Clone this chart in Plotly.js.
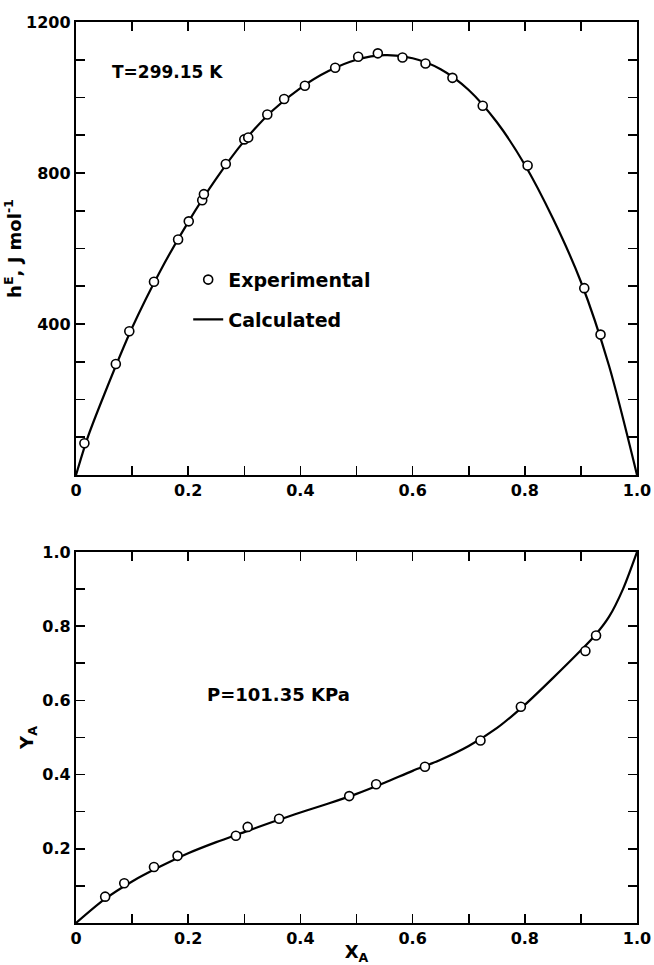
<!DOCTYPE html>
<html>
<head>
<meta charset="utf-8">
<script src="https://cdn.plot.ly/plotly-3.0.1.min.js"></script>
<style>html,body{margin:0;padding:0;background:#fff;}#chart{width:654px;height:965px;}</style>
</head>
<body>
<div id="chart"></div>
<script>
// Top panel: excess enthalpy hE (J/mol) vs x_A at T = 299.15 K
const hExpX = [0.015, 0.071, 0.095, 0.139, 0.182, 0.201, 0.225, 0.228, 0.267, 0.300, 0.307, 0.341, 0.371, 0.408, 0.462, 0.503, 0.538, 0.582, 0.623, 0.671, 0.725, 0.805, 0.906, 0.935];
const hExpY = [84, 294, 381, 512, 624, 672, 728, 744, 824, 889, 894, 955, 996, 1031, 1079, 1108, 1117, 1106, 1090, 1052, 978, 820, 495, 372];
const hCalcX = [0, 0.02, 0.05, 0.1, 0.15, 0.2, 0.25, 0.3, 0.35, 0.4, 0.45, 0.5, 0.55, 0.6, 0.65, 0.7, 0.75, 0.8, 0.85, 0.9, 0.95, 1.0];
const hCalcY = [0, 96, 212, 390, 540, 670, 785, 885, 965, 1025, 1070, 1100, 1112, 1104, 1075, 1020, 935, 822, 680, 512, 290, 0];

// Bottom panel: vapour composition y_A vs x_A at P = 101.35 kPa
const yExpX = [0.052, 0.086, 0.139, 0.181, 0.285, 0.306, 0.362, 0.487, 0.535, 0.622, 0.721, 0.793, 0.908, 0.927];
const yExpY = [0.071, 0.107, 0.151, 0.181, 0.235, 0.259, 0.281, 0.342, 0.374, 0.421, 0.492, 0.583, 0.733, 0.775];
const yCalcX = [0, 0.05, 0.1, 0.15, 0.2, 0.25, 0.3, 0.35, 0.4, 0.45, 0.5, 0.55, 0.6, 0.65, 0.7, 0.75, 0.8, 0.85, 0.9, 0.925, 0.95, 0.975, 1.0];
const yCalcY = [0, 0.063, 0.112, 0.152, 0.188, 0.218, 0.245, 0.272, 0.298, 0.322, 0.348, 0.378, 0.41, 0.44, 0.477, 0.525, 0.588, 0.66, 0.735, 0.775, 0.825, 0.9, 1.0];

const xTickVals = [0, 0.1, 0.2, 0.3, 0.4, 0.5, 0.6, 0.7, 0.8, 0.9, 1.0];
const xTickText = ['0', '', '0.2', '', '0.4', '', '0.6', '', '0.8', '', '1.0'];
const hTickVals = [0, 100, 200, 300, 400, 500, 600, 700, 800, 900, 1000, 1100, 1200];
const hTickText = ['', '', '', '', '400', '', '', '', '800', '', '', '', '1200'];
const yTickVals = [0, 0.1, 0.2, 0.3, 0.4, 0.5, 0.6, 0.7, 0.8, 0.9, 1.0];
const yTickText = ['', '', '0.2', '', '0.4', '', '0.6', '', '0.8', '', '1.0'];

const FONT = 'DejaVu Sans, Liberation Sans, sans-serif';
const tickFont = {family: FONT, size: 16, color: '#000', weight: 700};

const markerStyle = {symbol: 'circle', size: 9, color: '#fff', line: {color: '#000', width: 1.6}};

const traces = [
  {x: hCalcX, y: hCalcY, xaxis: 'x', yaxis: 'y', mode: 'lines', name: 'Calculated',
   line: {color: '#000', width: 2.2, shape: 'spline', smoothing: 0.8}, legendgroup: 'b', legendrank: 2},
  {x: hExpX, y: hExpY, xaxis: 'x', yaxis: 'y', mode: 'markers', name: 'Experimental',
   marker: markerStyle, legendgroup: 'a', legendrank: 1},
  {x: yCalcX, y: yCalcY, xaxis: 'x2', yaxis: 'y2', mode: 'lines', showlegend: false,
   line: {color: '#000', width: 2.2, shape: 'spline', smoothing: 0.8}},
  {x: yExpX, y: yExpY, xaxis: 'x2', yaxis: 'y2', mode: 'markers', showlegend: false,
   marker: markerStyle}
];

function xAxis(domainAnchor, titleText) {
  const ax = {
    domain: [0, 1], anchor: domainAnchor, range: [0, 1], tickmode: 'array',
    tickvals: xTickVals, ticktext: xTickText, ticks: 'inside', ticklen: 9, tickwidth: 1.6,
    tickcolor: '#000', showline: true, linecolor: '#000', linewidth: 2.2, mirror: 'ticks',
    showgrid: false, zeroline: false, tickfont: tickFont, ticklabelstandoff: 0
  };
  if (titleText) ax.title = {text: titleText, font: {family: FONT, size: 18, color: '#000', weight: 700}, standoff: 8};
  return ax;
}

const layout = {
  width: 654, height: 965,
  margin: {l: 76, r: 17, t: 22, b: 42},
  paper_bgcolor: '#fff', plot_bgcolor: '#fff',
  showlegend: true,
  legend: {x: 0.2, y: 0.735, xanchor: 'left', yanchor: 'top', bgcolor: 'rgba(0,0,0,0)',
           font: {family: FONT, size: 19, color: '#000', weight: 700}, tracegroupgap: 12,
           itemwidth: 30, traceorder: 'grouped'},
  xaxis: xAxis('y', null),
  yaxis: {
    domain: [0.4972, 1], anchor: 'x', range: [0, 1200], tickmode: 'array',
    tickvals: hTickVals, ticktext: hTickText, ticks: 'inside', ticklen: 9, tickwidth: 1.6,
    tickcolor: '#000', showline: true, linecolor: '#000', linewidth: 2.2, mirror: 'ticks',
    showgrid: false, zeroline: false, tickfont: tickFont, ticklabelstandoff: 0,
    title: {text: 'h<sup>E</sup>, J mol<sup>-1</sup>', font: {family: FONT, size: 18, color: '#000', weight: 700}, standoff: 0}
  },
  xaxis2: xAxis('y2', 'X<sub>A</sub>'),
  yaxis2: {
    domain: [0, 0.4118], anchor: 'x2', range: [0, 1], tickmode: 'array',
    tickvals: yTickVals, ticktext: yTickText, ticks: 'inside', ticklen: 9, tickwidth: 1.6,
    tickcolor: '#000', showline: true, linecolor: '#000', linewidth: 2.2, mirror: 'ticks',
    showgrid: false, zeroline: false, tickfont: tickFont, ticklabelstandoff: 0,
    title: {text: 'Y<sub>A</sub>', font: {family: FONT, size: 18, color: '#000', weight: 700}, standoff: 4}
  },
  annotations: [
    {xref: 'x', yref: 'y', x: 0.06, y: 1067, text: 'T=299.15 K', showarrow: false,
     xanchor: 'left', yanchor: 'middle', font: {family: FONT, size: 17, color: '#000', weight: 700}},
    {xref: 'x2', yref: 'y2', x: 0.23, y: 0.615, text: 'P=101.35 KPa', showarrow: false,
     xanchor: 'left', yanchor: 'middle', font: {family: FONT, size: 18, color: '#000', weight: 700}}
  ]
};

Plotly.newPlot('chart', traces, layout, {staticPlot: true, displayModeBar: false});
</script>
</body>
</html>
